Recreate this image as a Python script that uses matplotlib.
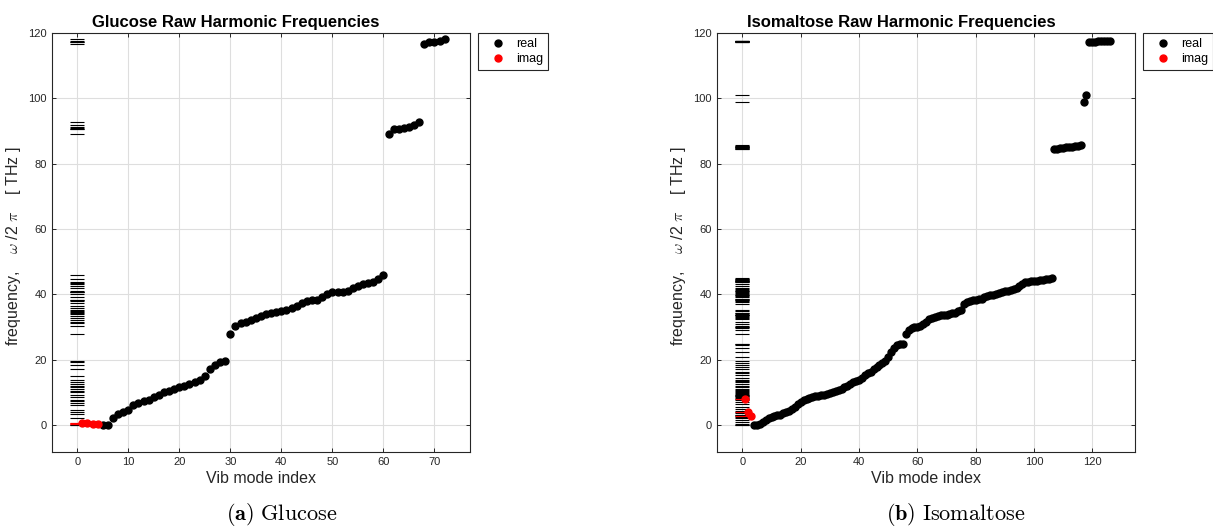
import matplotlib
matplotlib.use("Agg")
import matplotlib.pyplot as plt

plt.rcParams['font.family'] = ['Liberation Sans', 'DejaVu Sans']
plt.rcParams['mathtext.fontset'] = 'cm'

# ---------------- data ----------------
# Glucose: mode index -> frequency (THz)
glc_imag_idx = [1, 2, 3, 4]
glc_imag_val = [0.6, 0.7, 0.4, 0.15]
glc_real_idx = list(range(5, 73))
glc_real_val = [0.0, 0.0,
                2.0, 3.2, 3.8, 4.6, 6.0, 6.8, 7.3, 7.6, 8.5, 9.2,
                10.0, 10.4, 10.9, 11.5, 12.0, 12.4, 13.0, 13.8, 15.1, 17.0,
                18.2, 19.2, 19.6, 27.7, 30.4, 31.1, 31.6, 32.1, 32.6, 33.2,
                33.9, 34.4, 34.6, 34.8, 35.1, 35.7, 36.3, 37.3, 37.8, 38.1,
                38.3, 39.1, 40.1, 40.6, 40.8, 40.8, 41.1, 41.9, 42.6, 43.1,
                43.4, 43.8, 44.6, 45.9,
                89.2, 90.5, 90.7, 91.0, 91.3, 91.7, 92.7,
                116.7, 117.1, 117.2, 117.4, 118.3]

# Isomaltose
iso_imag_idx = [1, 2, 3]
iso_imag_val = [8.0, 4.1, 2.6]
iso_real_idx = list(range(4, 127))
iso_real_val = [0.0, 0.0, 0.2,
                1.0, 1.6, 2.0, 2.4, 2.7, 2.9, 3.1, 3.6, 4.0, 4.4,
                4.9, 5.4, 6.3, 7.0, 7.5, 7.9, 8.2, 8.5, 8.8, 9.0,
                9.1, 9.2, 9.5, 9.7, 10.0, 10.3, 10.6, 11.0, 11.5, 12.0,
                12.5, 13.0, 13.4, 13.8, 14.5, 15.3, 15.8, 16.2, 17.0, 17.7,
                18.4, 19.0, 19.5, 20.9, 22.3, 23.6, 24.5, 24.7, 24.8, 27.9,
                29.0, 29.6, 30.0, 30.1, 30.3, 31.0, 31.6, 32.3, 32.8, 33.1,
                33.3, 33.5, 33.7, 33.8, 34.0, 34.2, 34.4, 34.8, 35.2, 36.9,
                37.6, 37.9, 38.1, 38.2, 38.4, 38.7, 39.2, 39.5, 39.7, 39.8,
                40.1, 40.4, 40.7, 40.9, 41.1, 41.3, 41.5, 41.9, 42.5, 43.2,
                43.7, 43.9, 44.1, 44.1, 44.2, 44.3, 44.4, 44.6, 44.8, 45.1,
                84.5, 84.6, 84.8, 84.9, 85.0, 85.1, 85.2, 85.3, 85.5, 85.8,
                98.8, 100.9,
                117.2, 117.3, 117.3, 117.4, 117.4, 117.5, 117.5, 117.6]

titles = ["Glucose Raw Harmonic Frequencies", "Isomaltose Raw Harmonic Frequencies"]
captions = [r"$\mathbf{(a)}\ \mathrm{Glucose}$", r"$\mathbf{(b)}\ \mathrm{Isomaltose}$"]
xticks_list = [[0, 10, 20, 30, 40, 50, 60, 70], [0, 20, 40, 60, 80, 100, 120]]
xlims = [(-5, 77), (-8.8, 134.7)]
yticks = [0, 20, 40, 60, 80, 100, 120]

datasets = [(glc_real_idx, glc_real_val, glc_imag_idx, glc_imag_val),
            (iso_real_idx, iso_real_val, iso_imag_idx, iso_imag_val)]

W, H = 1213, 531
fig = plt.figure(figsize=(W / 100, H / 100), dpi=100)

ax_left_px = [51.7, 716.7]
ax_w_px = 418.5
ax_top_px, ax_bot_px = 33, 452
caption_x_px = [282, 956]

axcol = '#262626'
for k in range(2):
    ax = fig.add_axes([ax_left_px[k] / W, 1 - ax_bot_px / H, ax_w_px / W,
                       (ax_bot_px - ax_top_px) / H])
    ridx, rval, iidx, ival = datasets[k]
    # rug of frequencies at x = 0
    ax.plot([0] * len(rval), rval, linestyle='none', marker='_', color='black',
            markersize=10, markeredgewidth=0.8, zorder=3)
    ax.plot([0] * len(ival), ival, linestyle='none', marker='_', color='red',
            markersize=10, markeredgewidth=0.8, zorder=3)
    ax.plot(ridx, rval, linestyle='none', marker='o', color='black',
            markersize=5, label='real', zorder=4)
    ax.plot(iidx, ival, linestyle='none', marker='o', color='red',
            markersize=5, label='imag', zorder=5)

    ax.set_xlim(*xlims[k])
    ax.set_ylim(-8.3, 120)
    ax.set_xticks(xticks_list[k])
    ax.set_yticks(yticks)
    ax.grid(True, color='#dedede', linewidth=0.8)
    ax.set_axisbelow(True)
    ax.tick_params(direction='in', top=True, right=True, length=3,
                   labelsize=8, colors=axcol, labelcolor=axcol, width=0.7)
    for sp in ax.spines.values():
        sp.set_color(axcol)
        sp.set_linewidth(0.8)

    ax.set_title(titles[k], fontsize=12, fontweight='bold', x=0.44, pad=4)
    ax.set_xlabel('Vib mode index', fontsize=11.5, color=axcol, labelpad=3)
    ax.set_ylabel(r'frequency,    $\omega$ /2 $\pi$    [ THz ]', fontsize=11.5,
                  color=axcol)
    ax.yaxis.set_label_coords(-0.068, 0.49)

    leg = ax.legend(loc='upper left', bbox_to_anchor=(1.019, 1.0),
                    borderaxespad=0, fancybox=False, fontsize=9,
                    handletextpad=0.35, borderpad=0.4, labelspacing=0.25,
                    handlelength=2.3, framealpha=1)
    leg.get_frame().set_edgecolor(axcol)
    leg.get_frame().set_linewidth(0.8)

    fig.text(caption_x_px[k] / W, 1 - 515 / H, captions[k], fontsize=16,
             ha='center', va='center')

fig.savefig('out.png', dpi=100)
